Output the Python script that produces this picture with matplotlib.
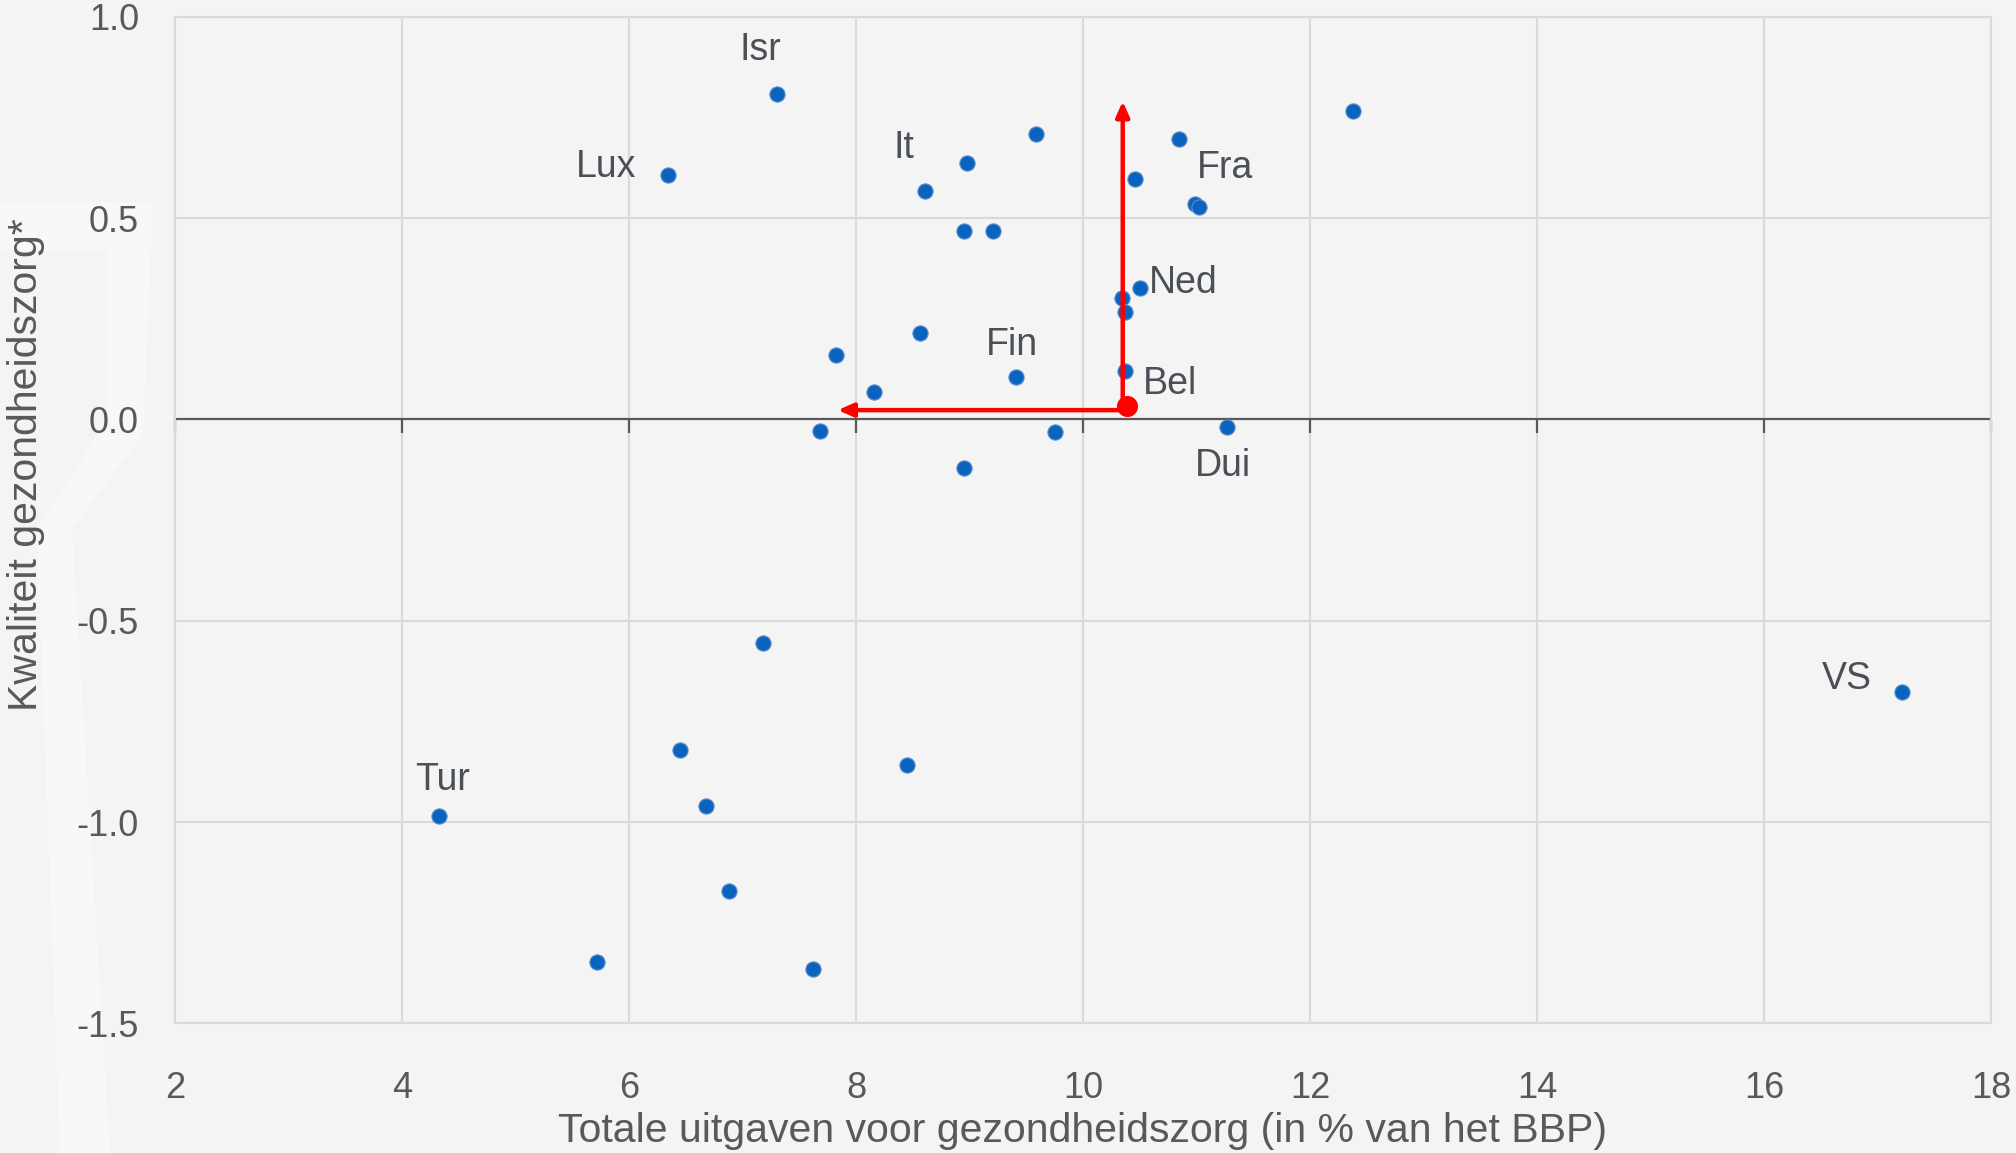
import matplotlib.pyplot as plt
from matplotlib.patches import Polygon
import numpy as np

# health spending (% GDP) vs quality index, one point per country
spending = [7.30, 6.34, 8.98, 8.61, 9.59, 8.95, 9.21, 10.85, 10.46, 10.99,
            11.02, 12.38, 10.50, 10.34, 10.37, 8.56, 7.82, 9.41, 8.16, 10.37,
            7.68, 9.75, 8.95, 11.27, 7.18, 6.45, 8.45, 6.68, 4.33, 6.88,
            5.72, 7.62, 17.22]
quality = [0.808, 0.607, 0.636, 0.566, 0.709, 0.467, 0.467, 0.697, 0.598, 0.534,
           0.527, 0.767, 0.326, 0.301, 0.266, 0.215, 0.160, 0.106, 0.068, 0.119,
           -0.028, -0.031, -0.121, -0.019, -0.555, -0.820, -0.858, -0.960, -0.986, -1.171,
           -1.347, -1.366, -0.676]
names = ['Isr', 'Lux', '', 'It', '', '', '', '', '', '',
         'Fra', '', 'Ned', '', '', '', '', 'Fin', '', '',
         '', '', '', 'Dui', '', '', '', '', 'Tur', '',
         '', '', 'VS']

# highlighted country and the two reference arrows
bel_x, bel_y = 10.39, 0.033
arrow_x = 10.35
arrow_y = 0.023
arrow_top = 0.79
arrow_left = 7.84

xticks = [2, 4, 6, 8, 10, 12, 14, 16, 18]
yticks = [-1.5, -1.0, -0.5, 0.0, 0.5, 1.0]

# label offsets in points (dx, dy)
offsets = {'Isr': (-12, 32), 'Lux': (-44, 6), 'It': (-15, 31), 'Fra': (19, 28),
           'Ned': (31, 4), 'Fin': (-3, 23), 'Bel': (31, 16), 'Dui': (-3, -28),
           'Tur': (2, 26), 'VS': (-40, 9)}

bg = '#f4f4f4'
txt = '#595959'
lbl = '#4b5057'
plt.rcParams['font.family'] = ['Liberation Sans', 'DejaVu Sans']

fig = plt.figure(figsize=(20.16, 11.53), dpi=100, facecolor=bg)
ax = fig.add_axes([175/2016, 1-1023.4/1153, 1816/2016, 1006.7/1153])
ax.set_facecolor(bg)

# faint watermark shape on the left edge (figure pixels)
W, H = 2016, 1153
pts = [(0, 202), (153, 202), (143, 434), (72, 529), (110, 1153), (60, 1153),
       (37, 529), (107, 420), (107, 250), (0, 250)]
wm = Polygon([(px/W, 1-py/H) for px, py in pts], closed=True, transform=fig.transFigure,
             facecolor='white', edgecolor='none', alpha=0.45, zorder=-1)
fig.patches.append(wm)

ax.set_xlim(2, 18)
ax.set_ylim(-1.5, 1.0)
ax.set_xticks(xticks)
ax.set_yticks(yticks)
ax.set_xticklabels([str(t) for t in xticks])
ax.set_yticklabels(['%.1f' % t for t in yticks])
ax.grid(True, color='#d9d9d9', lw=1.5)
for s in ax.spines.values():
    s.set_color('#d9d9d9')
    s.set_linewidth(1.5)
ax.tick_params(length=0, labelsize=26, labelcolor=txt)
ax.tick_params(axis='x', pad=34)
ax.tick_params(axis='y', pad=26)

# zero line with small ticks below
ax.axhline(0, color='#595959', lw=1.6, zorder=2)
ax.vlines(xticks, -0.035, 0, color='#595959', lw=1.6, zorder=2, clip_on=False)

ax.scatter(spending, quality, s=120, color='#0a63be', edgecolors='#5e8fcc',
           linewidths=0.8, zorder=3)

# red arrows
ax.annotate('', xy=(arrow_x, arrow_top), xytext=(arrow_x, arrow_y),
            arrowprops=dict(arrowstyle='-|>,head_length=0.9,head_width=0.4',
                            color='#ff0000', lw=3.2, shrinkA=0, shrinkB=0), zorder=4)
ax.annotate('', xy=(arrow_left, arrow_y), xytext=(arrow_x, arrow_y),
            arrowprops=dict(arrowstyle='-|>,head_length=0.9,head_width=0.4',
                            color='#ff0000', lw=3.2, shrinkA=0, shrinkB=0), zorder=4)
ax.scatter([bel_x], [bel_y], s=200, color='#ff0000', zorder=5)

for x, y, n in zip(spending, quality, names):
    if n:
        ax.annotate(n, (x, y), xytext=offsets[n], textcoords='offset points',
                    ha='center', va='center', fontsize=27, color=lbl)
ax.annotate('Bel', (bel_x, bel_y), xytext=offsets['Bel'], textcoords='offset points',
            ha='center', va='center', fontsize=27, color=lbl)

fig.text(26/W, 1-465/H, 'Kwaliteit gezondheidszorg*', rotation=90, ha='center',
         va='center', fontsize=29.5, color=txt)
fig.text(1083/W, 1-1131/H, 'Totale uitgaven voor gezondheidszorg (in % van het BBP)',
         ha='center', va='center', fontsize=29.5, color=txt)

fig.savefig('out.png', dpi=100, facecolor=bg)
